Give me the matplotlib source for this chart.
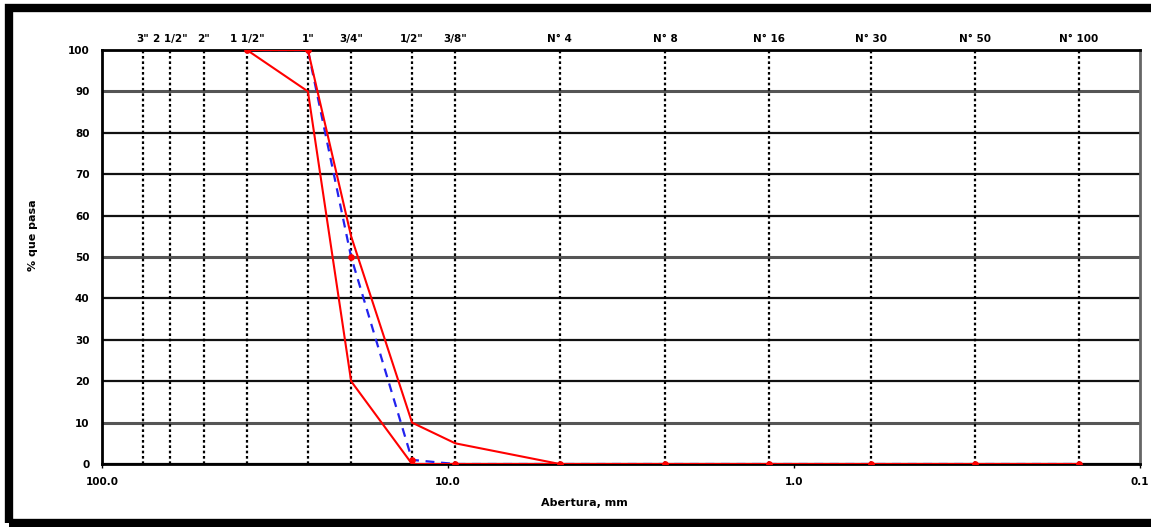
import numpy as np
import matplotlib.pyplot as plt
from matplotlib.patches import Rectangle

# sieve openings (mm) and names
sieve_mm = [76.2, 63.5, 50.8, 38.1, 25.4, 19.05, 12.7, 9.525, 4.75, 2.36, 1.18, 0.6, 0.3, 0.15]
sieve_lbl = ['3"', '2 1/2"', '2"', '1 1/2"', '1"', '3/4"', '1/2"', '3/8"',
             'N° 4', 'N° 8', 'N° 16', 'N° 30', 'N° 50', 'N° 100']

# gradation limits and sample curve
lim_x = [38.1, 25.4, 19.05, 12.7, 9.525, 4.75, 2.36, 1.18, 0.6, 0.3, 0.15]
upper = [100, 100, 55, 10, 5, 0, 0, 0, 0, 0, 0]
lower = [100, 90, 20, 0, 0, 0, 0, 0, 0, 0, 0]
sample = [100, 100, 50, 1, 0, 0, 0, 0, 0, 0, 0]

yticks = list(range(0, 101, 10))
xticks = [100, 10, 1, 0.1]
xtick_lbl = ['100.0', '10.0', '1.0', '0.1']

fig = plt.figure(figsize=(11.51, 5.27), dpi=100)
ax = fig.add_axes([0.0886, 0.1195, 0.9018, 0.7856])

ax.set_xscale('log')
ax.set_xlim(100, 0.1)
ax.set_ylim(0, 100)

# grid
for y in yticks:
    if y in (10, 50, 90):
        ax.axhline(y, color='#555555', lw=2.2, zorder=1)
    else:
        ax.axhline(y, color='#111111', lw=1.6, zorder=1)
for s in sieve_mm:
    ax.axvline(s, color='black', ls=(0, (1.2, 1.2)), lw=1.6, zorder=1)

ax.plot(lim_x, sample, color='#2222ee', lw=1.6, ls=(0, (4, 3)), zorder=3)
ax.plot(lim_x, upper, color='#ff0000', lw=1.5, zorder=4)
ax.plot(lim_x, lower, color='#ff0000', lw=1.5, zorder=4)
ax.plot(lim_x, sample, ls='none', marker='o', ms=3.8, color='#ff0000', zorder=5)

# sieve names along the top
for s, l in zip(sieve_mm, sieve_lbl):
    ax.text(s, 101.5, l, ha='center', va='bottom', fontsize=7.5, fontweight='bold',
            transform=ax.transData, clip_on=False)

ax.set_yticks(yticks)
ax.set_yticklabels([str(v) for v in yticks], fontsize=7.5, fontweight='bold')
ax.set_xticks(xticks)
ax.set_xticklabels(xtick_lbl, fontsize=7.5, fontweight='bold')
ax.xaxis.set_minor_locator(plt.NullLocator())
ax.tick_params(axis='y', length=0, pad=9)
ax.tick_params(axis='x', length=3, width=1, pad=6)

for sp in ax.spines.values():
    sp.set_linewidth(2)
ax.spines['right'].set_color('#666666')

ax.set_xlabel('Abertura, mm', fontsize=8, fontweight='bold')
ax.xaxis.set_label_coords(0.465, -0.083)
ax.set_ylabel('% que pasa', fontsize=8, fontweight='bold')
ax.yaxis.set_label_coords(-0.062, 0.553)

# black frame around the picture
fig.patches.append(Rectangle((0.0075, 0.0085), 1.05, 0.9765, transform=fig.transFigure,
                             fill=False, ec='black', lw=6, zorder=10))

fig.savefig('out.png', dpi=100)
